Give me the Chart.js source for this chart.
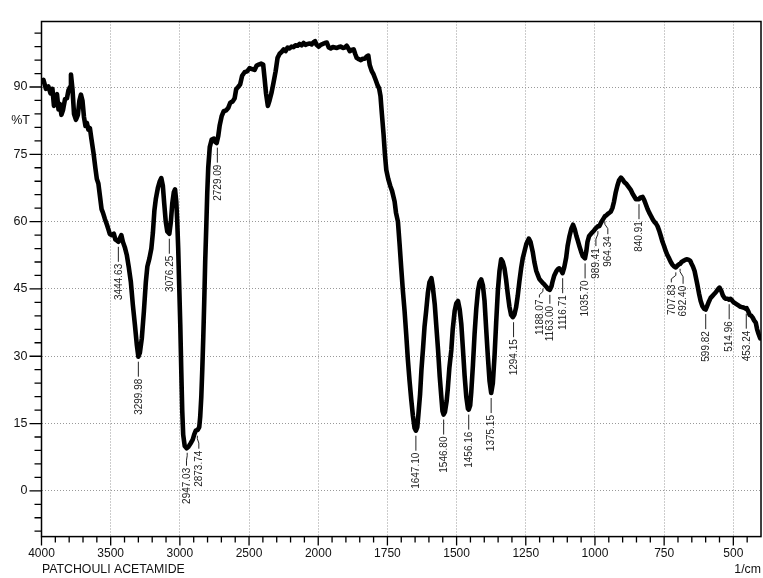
<!DOCTYPE html>
<html><head><meta charset="utf-8">
<script src="https://cdn.jsdelivr.net/npm/chart.js@4.4.1/dist/chart.umd.min.js"></script>
<style>html,body{margin:0;padding:0;background:#fff;}#wrap{width:763px;height:578px;position:relative;}</style>
</head><body><div id="wrap"><canvas id="c" width="763" height="578"></canvas></div>
<script>
// ---- data ----
const wavenumbers = [3999,3986,3968,3950,3935,3921,3910,3899,3888,3877,3867,3856,3845,3830,3816,3805,3794,3787,3776,3765,3751,3737,3726,3715,3704,3693,3682,3672,3661,3650,3639,3625,3610,3600,3589,3578,3566,3556,3542,3527,3516,3506,3491,3477,3466,3455,3444,3433,3423,3412,3398,3383,3369,3354,3340,3325,3311,3300,3289,3275,3260,3246,3235,3220,3206,3195,3184,3174,3159,3145,3134,3123,3113,3102,3091,3076,3065,3055,3044,3035,3026,3019,3012,3005,2997,2990,2983,2976,2965,2951,2936,2922,2907,2896,2885,2871,2860,2853,2845,2838,2831,2824,2817,2809,2802,2795,2784,2770,2755,2745,2734,2723,2712,2698,2683,2665,2651,2636,2618,2604,2593,2579,2564,2550,2532,2514,2496,2478,2460,2445,2431,2413,2398,2388,2377,2364,2352,2337,2323,2308,2294,2279,2265,2250,2236,2221,2207,2193,2178,2164,2149,2135,2120,2106,2092,2077,2063,2048,2034,2023,2012,1998,1991,1983,1976,1969,1962,1955,1947,1940,1933,1926,1918,1911,1904,1897,1891,1886,1877,1872,1866,1861,1853,1846,1839,1832,1825,1819,1814,1807,1800,1792,1785,1780,1775,1770,1764,1759,1754,1747,1740,1733,1724,1719,1712,1706,1700,1694,1688,1682,1676,1670,1664,1658,1652,1647,1642,1638,1632,1627,1621,1616,1610,1604,1598,1591,1586,1579,1573,1567,1561,1555,1551,1547,1542,1536,1532,1526,1519,1514,1507,1501,1495,1489,1483,1477,1471,1465,1459,1456,1451,1447,1441,1435,1429,1423,1417,1411,1405,1399,1393,1387,1381,1375,1369,1363,1357,1351,1345,1339,1333,1327,1321,1315,1309,1303,1297,1291,1285,1279,1273,1267,1261,1255,1248,1239,1233,1225,1219,1212,1207,1201,1194,1188,1183,1176,1170,1163,1157,1153,1147,1140,1134,1129,1123,1117,1111,1104,1099,1092,1085,1079,1073,1067,1062,1056,1050,1044,1036,1031,1027,1021,1014,1006,999,989,984,977,971,964,959,952,943,937,931,925,919,913,906,900,894,888,882,876,870,864,858,852,846,841,835,828,822,816,810,804,798,792,786,780,774,768,762,756,750,744,738,732,726,720,714,708,702,696,692,687,682,676,669,662,656,651,646,640,635,630,624,618,612,606,600,594,588,582,576,570,564,557,550,543,538,532,527,521,515,510,504,499,493,486,479,473,467,461,455,452,446,441,435,430,425,419,414,409,403];
const transmittance = [91.2,91.6,89.6,90.1,88.6,89.6,85.8,87.5,88.4,85.0,86.2,83.8,84.8,87.3,87.5,89.3,90.0,92.8,89.5,84.0,82.7,83.8,87.0,88.3,87.0,83.3,81.3,82.0,80.5,80.8,78.4,75.5,71.8,69.5,68.5,65.8,62.8,62.0,60.6,59.3,58.2,57.2,57.0,57.3,56.0,55.8,55.5,56.3,57.0,55.5,54.3,52.5,49.8,46.5,41.5,37.0,32.5,29.9,30.8,34.0,40.0,46.5,50.0,51.8,54.0,57.5,62.5,65.0,67.5,69.0,69.7,68.0,64.0,60.0,57.8,57.3,60.0,64.0,66.5,67.2,64.5,60.0,54.0,46.0,37.0,27.0,18.0,12.5,10.0,9.5,9.9,10.6,11.4,12.6,13.4,13.6,14.2,16.5,21.0,27.0,34.0,42.0,51.0,59.0,66.5,72.0,76.6,78.3,78.5,77.8,77.5,79.0,81.5,83.5,84.6,84.8,85.3,86.5,86.8,87.5,89.5,90.0,90.6,92.5,93.3,93.5,94.2,94.0,93.8,94.8,95.0,95.2,95.0,92.0,88.5,85.8,87.0,88.8,91.0,93.5,96.5,97.4,97.8,98.4,98.0,98.8,98.6,99.0,98.9,99.3,99.2,99.6,99.3,99.8,99.4,99.6,99.7,99.5,100.0,100.2,99.4,99.0,99.4,99.6,99.8,99.9,98.8,98.6,98.9,98.8,98.7,98.9,99.0,98.7,98.8,99.2,98.6,98.0,98.3,98.4,97.3,96.5,96.2,96.0,96.3,96.3,96.8,97.0,94.9,93.6,92.8,91.5,90.3,89.7,88.0,84.0,79.5,75.0,71.5,69.5,68.0,66.8,64.5,62.0,60.0,55.0,49.6,44.5,40.1,34.8,29.2,24.5,20.4,16.8,14.0,13.4,14.2,17.0,21.5,27.0,32.0,36.5,40.1,44.0,46.5,47.4,45.5,41.6,36.5,31.4,25.5,20.8,17.8,17.0,17.6,20.0,22.6,27.5,31.4,36.0,40.1,41.8,42.3,40.5,37.2,31.5,25.6,21.0,18.3,18.1,19.0,22.0,28.0,35.0,40.5,44.5,46.5,47.1,45.8,42.3,36.0,29.9,24.5,21.8,24.0,29.9,37.5,44.5,49.0,51.6,51.0,49.6,47.0,43.8,41.0,39.2,38.7,39.3,40.9,43.5,46.7,49.5,51.8,53.3,55.0,56.2,55.5,53.3,51.0,49.0,48.2,47.2,46.7,46.3,46.0,45.5,45.0,44.8,45.6,46.7,48.0,48.9,49.4,49.6,49.2,48.5,49.8,52.0,54.5,56.8,58.5,59.3,58.3,56.8,55.8,54.5,53.3,52.3,51.8,53.5,55.5,56.8,57.3,57.8,58.4,59.0,59.0,59.9,60.5,61.2,61.4,61.8,62.2,63.0,64.5,66.5,68.0,69.2,69.8,69.4,68.8,68.5,68.0,67.5,67.0,66.2,65.6,65.0,65.0,65.0,65.4,65.5,64.8,63.8,62.8,62.0,61.3,60.6,60.0,59.6,59.0,58.0,56.8,55.5,54.5,53.4,52.5,51.8,51.0,50.4,50.0,49.8,50.2,50.5,50.6,51.0,51.2,51.4,51.6,51.5,51.3,50.6,50.0,49.0,47.5,46.0,44.0,42.3,41.2,40.6,40.4,41.3,42.2,43.0,43.4,43.8,44.2,44.8,45.3,44.5,43.6,43.0,42.8,42.8,42.6,42.8,42.4,42.0,41.8,41.5,41.2,41.0,40.9,40.8,40.6,40.7,40.0,39.2,39.0,38.6,38.0,37.5,36.0,35.0,34.0];
const peakLabels = ['3444.63','3299.98','3076.25','2947.03','2873.74','2729.09','1647.10','1546.80','1456.16','1375.15','1294.15','1188.07','1163.00','1116.71','1035.70','989.41','964.34','840.91','707.83','692.40','599.82','514.96','453.24'];
const peakWavenumbers = [3444.63,3299.98,3076.25,2947.03,2873.74,2729.09,1647.10,1546.80,1456.16,1375.15,1294.15,1188.07,1163.00,1116.71,1035.70,989.41,964.34,840.91,707.83,692.40,599.82,514.96,453.24];
const peakTransmittance = [55.5,29.9,57.3,9.6,13.4,77.6,13.4,17.0,18.1,21.8,38.7,46.2,44.8,48.5,51.8,59.0,61.2,65.0,49.8,50.6,40.5,42.7,40.6];
const xTickLabels = ['4000','3500','3000','2500','2000','1750','1500','1250','1000','750','500'];
const sampleName = 'PATCHOULI ACETAMIDE';
const xUnit = '1/cm';
const yUnit = '%T';

// ---- styling (separate from data) ----
const labelNudge = {
  '2947.03': {dx: -0.7, dy: -2}, '2873.74': {dx: 1.5, dy: -2},
  '1188.07': {dx: -3.5, dy: -6}, '1163.00': {dx: 0, dy: -6},
  '989.41': {dx: -2, dy: 0}, '964.34': {dx: 3, dy: -2},
  '707.83': {dx: -4.5, dy: -5}, '692.40': {dx: 3, dy: 0}
};
const FONT = '"Liberation Sans", Arial, Helvetica, sans-serif';

// wavenumber -> position on the split (2x expanded below 2000) axis
function wnToU(wn) { return wn >= 2000 ? (4000 - wn) / 500 : 4 + (2000 - wn) / 250; }

const points = wavenumbers.map((w, i) => ({x: wnToU(w), y: transmittance[i]}));

const decor = {
  id: 'decor',
  afterDatasetsDraw(chart) {
    const {ctx, scales: {x, y}} = chart;
    ctx.save();
    ctx.font = '10px ' + FONT;
    ctx.fillStyle = '#222';
    ctx.strokeStyle = '#222';
    ctx.lineWidth = 1;
    peakLabels.forEach((lab, i) => {
      const px = x.getPixelForValue(wnToU(peakWavenumbers[i]));
      const py = y.getPixelForValue(peakTransmittance[i]);
      const n = labelNudge[lab] || {dx: 0, dy: 0};
      const tx = px + n.dx;
      const textTop = py + 22 + n.dy;
      ctx.beginPath();
      ctx.moveTo(px, py + 5);
      if (n.dx !== 0) {
        ctx.lineTo(px, py + 8);
        ctx.lineTo(tx, py + 13 + Math.min(0, n.dy) * 0.3);
      }
      ctx.lineTo(tx, textTop - 2);
      ctx.stroke();
      ctx.save();
      ctx.translate(tx, textTop);
      ctx.rotate(-Math.PI / 2);
      ctx.textAlign = 'right';
      ctx.textBaseline = 'middle';
      ctx.fillText(lab, 0, 0.5);
      ctx.restore();
    });
    ctx.restore();
  },
  afterDraw(chart) {
    const {ctx, chartArea: a, scales: {x, y}} = chart;
    ctx.save();
    ctx.setLineDash([]);
    ctx.strokeStyle = '#000';
    ctx.lineWidth = 1.5;
    ctx.strokeRect(a.left, a.top, a.right - a.left, a.bottom - a.top);
    ctx.lineWidth = 1.3;
    ctx.beginPath();
    for (let k = 0; k <= Math.round(x.max * 5); k++) {
      const u = k / 5;
      const p = x.getPixelForValue(u);
      if (p > a.right - 1) continue;
      const major = k % 5 === 0;
      ctx.moveTo(p, a.bottom); ctx.lineTo(p, a.bottom + (major ? 9 : 6));
    }
    for (let v = -9; v <= y.max; v += 3) {
      const p = y.getPixelForValue(v);
      const major = v % 15 === 0;
      ctx.moveTo(a.left, p); ctx.lineTo(a.left - (major ? 12 : 7), p);
    }
    ctx.stroke();
    ctx.fillStyle = '#111';
    ctx.font = '12.5px ' + FONT;
    ctx.textBaseline = 'middle';
    ctx.textAlign = 'right';
    ctx.fillText(yUnit, 30, y.getPixelForValue(82.5));
    ctx.font = '12.3px ' + FONT;
    ctx.textAlign = 'left';
    ctx.fillText(sampleName, 42, 570);
    ctx.textAlign = 'right';
    ctx.fillText(xUnit, 761, 570);
    ctx.restore();
  }
};

Chart.defaults.font.family = FONT;
new Chart(document.getElementById('c'), {
  type: 'line',
  data: {datasets: [{data: points, borderColor: '#000', borderWidth: 4.6, pointRadius: 0,
    tension: 0, borderJoinStyle: 'round', borderCapStyle: 'round', fill: false}]},
  options: {
    responsive: false, animation: false, devicePixelRatio: 1,
    layout: {padding: {top: 12, right: 2, left: 0, bottom: 0}},
    plugins: {legend: {display: false}, tooltip: {enabled: false}, title: {display: false}},
    scales: {
      x: {
        type: 'linear', min: 0, max: 10.4,
        afterFit(s) { s.height = 41.4; },
        ticks: {stepSize: 1, includeBounds: false, autoSkip: false, maxRotation: 0, padding: 10,
          color: '#111', font: {size: 12},
          callback: (v) => { const i = Math.round(v); return Math.abs(v - i) < 1e-6 ? xTickLabels[i] : ''; }},
        grid: {color: '#999', lineWidth: 1, drawTicks: false},
        border: {display: false, dash: [1, 2]}
      },
      y: {
        type: 'linear', min: -10.2, max: 104.6,
        afterFit(s) { s.width = 41.5; },
        ticks: {stepSize: 15, includeBounds: false, padding: 14, color: '#111', font: {size: 12.5}},
        grid: {color: '#999', lineWidth: 1, drawTicks: false},
        border: {display: false, dash: [1, 2]}
      }
    }
  },
  plugins: [decor]
});
</script>
</body></html>
